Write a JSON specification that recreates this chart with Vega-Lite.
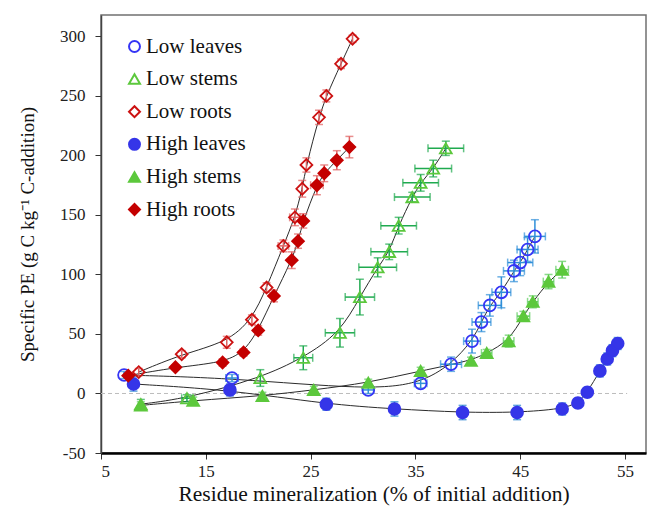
{
  "$schema": "https://vega.github.io/schema/vega-lite/v6.json",
  "width": 545,
  "height": 438,
  "autosize": {"type": "none"},
  "padding": {"left": 101, "top": 15, "right": 2, "bottom": 53},
  "background": "white",
  "datasets": {
    "pts": [
      {"s": "Low leaves", "x": 7.2, "y": 15.5, "ex": 0.3, "ey": 3},
      {"s": "Low leaves", "x": 17.5, "y": 13, "ex": 0.6, "ey": 3},
      {"s": "Low leaves", "x": 30.5, "y": 3, "ex": 0.5, "ey": 3},
      {"s": "Low leaves", "x": 35.5, "y": 8.5, "ex": 0.6, "ey": 4},
      {"s": "Low leaves", "x": 38.4, "y": 24.6, "ex": 1.0, "ey": 6},
      {"s": "Low leaves", "x": 40.4, "y": 44, "ex": 0.8, "ey": 10},
      {"s": "Low leaves", "x": 41.3, "y": 60, "ex": 0.9, "ey": 8},
      {"s": "Low leaves", "x": 42.1, "y": 74, "ex": 1.1, "ey": 9},
      {"s": "Low leaves", "x": 43.2, "y": 85, "ex": 0.9, "ey": 13},
      {"s": "Low leaves", "x": 44.4, "y": 103, "ex": 1.0, "ey": 9},
      {"s": "Low leaves", "x": 45.0, "y": 110, "ex": 1.2, "ey": 11},
      {"s": "Low leaves", "x": 45.7, "y": 121, "ex": 1.0, "ey": 10},
      {"s": "Low leaves", "x": 46.4, "y": 132, "ex": 1.0, "ey": 14},

      {"s": "Low stems", "x": 8.8, "y": -9, "ex": 0.3, "ey": 4},
      {"s": "Low stems", "x": 13.2, "y": -4, "ex": 0.5, "ey": 3},
      {"s": "Low stems", "x": 20.2, "y": 13, "ex": 0.3, "ey": 7},
      {"s": "Low stems", "x": 24.3, "y": 30, "ex": 0.9, "ey": 10},
      {"s": "Low stems", "x": 27.8, "y": 51, "ex": 1.4, "ey": 12},
      {"s": "Low stems", "x": 29.7, "y": 81, "ex": 1.4, "ey": 15},
      {"s": "Low stems", "x": 31.4, "y": 106, "ex": 1.8, "ey": 8},
      {"s": "Low stems", "x": 32.5, "y": 119, "ex": 1.75, "ey": 6.5},
      {"s": "Low stems", "x": 33.4, "y": 141, "ex": 1.7, "ey": 7},
      {"s": "Low stems", "x": 34.7, "y": 165, "ex": 1.7, "ey": 4},
      {"s": "Low stems", "x": 35.5, "y": 177, "ex": 1.7, "ey": 7},
      {"s": "Low stems", "x": 36.7, "y": 189, "ex": 1.75, "ey": 7},
      {"s": "Low stems", "x": 37.9, "y": 206, "ex": 1.7, "ey": 6},

      {"s": "Low roots", "x": 8.6, "y": 18, "ex": 0.4, "ey": 3},
      {"s": "Low roots", "x": 12.7, "y": 33, "ex": 0.3, "ey": 3},
      {"s": "Low roots", "x": 17.0, "y": 43, "ex": 0.4, "ey": 5},
      {"s": "Low roots", "x": 19.4, "y": 62, "ex": 0.3, "ey": 4},
      {"s": "Low roots", "x": 20.8, "y": 89, "ex": 0.3, "ey": 4},
      {"s": "Low roots", "x": 22.4, "y": 124, "ex": 0.5, "ey": 5},
      {"s": "Low roots", "x": 23.5, "y": 148, "ex": 0.5, "ey": 7},
      {"s": "Low roots", "x": 24.2, "y": 172, "ex": 0.4, "ey": 7},
      {"s": "Low roots", "x": 24.6, "y": 192, "ex": 0.4, "ey": 6},
      {"s": "Low roots", "x": 25.8, "y": 232, "ex": 0.4, "ey": 6},
      {"s": "Low roots", "x": 26.5, "y": 250, "ex": 0.4, "ey": 5},
      {"s": "Low roots", "x": 27.9, "y": 277, "ex": 0.3, "ey": 4},
      {"s": "Low roots", "x": 29.0, "y": 298, "ex": 0.3, "ey": 3},

      {"s": "High leaves", "x": 8.1, "y": 8, "ex": 0.2, "ey": 6},
      {"s": "High leaves", "x": 17.3, "y": 3, "ex": 0.2, "ey": 5},
      {"s": "High leaves", "x": 26.5, "y": -9, "ex": 0.2, "ey": 5},
      {"s": "High leaves", "x": 33.0, "y": -13, "ex": 0.2, "ey": 6},
      {"s": "High leaves", "x": 39.5, "y": -16, "ex": 0.3, "ey": 6},
      {"s": "High leaves", "x": 44.7, "y": -16, "ex": 0.3, "ey": 6},
      {"s": "High leaves", "x": 49.0, "y": -13, "ex": 0.4, "ey": 5},
      {"s": "High leaves", "x": 50.5, "y": -8, "ex": 0.3, "ey": 4},
      {"s": "High leaves", "x": 51.4, "y": 1, "ex": 0.3, "ey": 4},
      {"s": "High leaves", "x": 52.6, "y": 19, "ex": 0.3, "ey": 5},
      {"s": "High leaves", "x": 53.3, "y": 29, "ex": 0.3, "ey": 5},
      {"s": "High leaves", "x": 53.8, "y": 36, "ex": 0.3, "ey": 5},
      {"s": "High leaves", "x": 54.3, "y": 42, "ex": 0.3, "ey": 5},

      {"s": "High stems", "x": 8.8, "y": -10, "ex": 0.3, "ey": 3},
      {"s": "High stems", "x": 13.8, "y": -6, "ex": 0.3, "ey": 3},
      {"s": "High stems", "x": 20.4, "y": -2, "ex": 0.3, "ey": 3},
      {"s": "High stems", "x": 25.3, "y": 3, "ex": 0.3, "ey": 3},
      {"s": "High stems", "x": 30.5, "y": 9, "ex": 0.3, "ey": 3},
      {"s": "High stems", "x": 35.5, "y": 19, "ex": 0.4, "ey": 3},
      {"s": "High stems", "x": 40.3, "y": 27.5, "ex": 0.4, "ey": 3},
      {"s": "High stems", "x": 41.8, "y": 34, "ex": 0.5, "ey": 3},
      {"s": "High stems", "x": 43.9, "y": 44, "ex": 0.5, "ey": 5},
      {"s": "High stems", "x": 45.3, "y": 65, "ex": 0.6, "ey": 4},
      {"s": "High stems", "x": 46.2, "y": 77, "ex": 0.5, "ey": 5},
      {"s": "High stems", "x": 47.7, "y": 94, "ex": 0.5, "ey": 6},
      {"s": "High stems", "x": 49.0, "y": 104, "ex": 0.6, "ey": 7},

      {"s": "High roots", "x": 7.6, "y": 15, "ex": 0.3, "ey": 2},
      {"s": "High roots", "x": 12.1, "y": 22, "ex": 0.3, "ey": 2},
      {"s": "High roots", "x": 16.6, "y": 26, "ex": 0.3, "ey": 3},
      {"s": "High roots", "x": 18.6, "y": 34.5, "ex": 0.3, "ey": 3},
      {"s": "High roots", "x": 20.0, "y": 53, "ex": 0.3, "ey": 4},
      {"s": "High roots", "x": 21.5, "y": 82, "ex": 0.3, "ey": 5},
      {"s": "High roots", "x": 23.2, "y": 112, "ex": 0.3, "ey": 7},
      {"s": "High roots", "x": 23.8, "y": 128, "ex": 0.3, "ey": 6},
      {"s": "High roots", "x": 24.3, "y": 145, "ex": 0.3, "ey": 6},
      {"s": "High roots", "x": 25.6, "y": 175, "ex": 0.6, "ey": 8},
      {"s": "High roots", "x": 26.3, "y": 185, "ex": 0.3, "ey": 7},
      {"s": "High roots", "x": 27.5, "y": 196, "ex": 0.3, "ey": 8},
      {"s": "High roots", "x": 28.7, "y": 207, "ex": 0.3, "ey": 9}
    ]
  },
  "data": {"name": "pts"},
  "config": {
    "font": "Liberation Serif",
    "view": {"stroke": "#707070", "strokeWidth": 1.5},
    "axis": {
      "grid": false,
      "labelFont": "Liberation Serif",
      "labelFontSize": 17,
      "labelColor": "#222",
      "titleFont": "Liberation Serif",
      "titleFontSize": 20,
      "titleFontWeight": "normal",
      "titleColor": "#111",
      "tickColor": "#333",
      "tickSize": 6
    },
    "legend": {
      "labelFont": "Liberation Serif",
      "labelFontSize": 21,
      "labelColor": "#111",
      "symbolSize": 120,
      "symbolStrokeWidth": 2,
      "labelOffset": 1,
      "rowPadding": 10.6,
      "padding": 0
    }
  },
  "layer": [
    {
      "data": {"values": [{}]},
      "mark": {"type": "rule", "color": "#bdbdbd", "strokeWidth": 1, "strokeDash": [4, 3]},
      "encoding": {
        "y": {"datum": 0},
        "x": {"datum": 5},
        "x2": {"datum": 55.2}
      }
    },
    {
      "mark": {"type": "line", "interpolate": "basis", "color": "#2b2b2b", "strokeWidth": 1},
      "encoding": {
        "x": {"field": "x", "type": "quantitative", "title": "Residue mineralization (% of initial addition)"},
        "y": {"field": "y", "type": "quantitative", "title": "Specific PE (g C kg⁻¹ C-addition)"},
        "detail": {"field": "s"}
      }
    },
    {
      "mark": {"type": "errorbar", "ticks": {"size": 8}, "thickness": 1.5},
      "encoding": {
        "x": {"field": "x", "type": "quantitative", "title": "Residue mineralization (% of initial addition)"},
        "y": {"field": "y", "type": "quantitative", "title": "Specific PE (g C kg⁻¹ C-addition)"},
        "yError": {"field": "ey"},
        "color": {
          "field": "s", "type": "nominal", "legend": null,
          "scale": {
            "domain": ["High leaves", "High roots", "High stems", "Low leaves", "Low roots", "Low stems"],
            "range": ["#1f7fd0", "#e06060", "#5ccc5c", "#2f8fd8", "#e06060", "#1faa4f"]
          }
        }
      }
    },
    {
      "transform": [{"filter": "datum.ex >= 0.5"}],
      "mark": {"type": "errorbar", "ticks": {"size": 8}, "thickness": 1.5},
      "encoding": {
        "y": {"field": "y", "type": "quantitative", "title": "Specific PE (g C kg⁻¹ C-addition)"},
        "x": {"field": "x", "type": "quantitative", "title": "Residue mineralization (% of initial addition)"},
        "xError": {"field": "ex"},
        "color": {"field": "s", "type": "nominal", "legend": null}
      }
    },
    {
      "mark": {"type": "point", "size": 140, "strokeWidth": 1.8, "opacity": 1},
      "encoding": {
        "x": {
          "field": "x", "type": "quantitative",
          "title": "Residue mineralization (% of initial addition)",
          "scale": {"domain": [5, 57], "nice": false, "zero": false},
          "axis": {
            "values": [5, 15, 25, 35, 45, 55],
            "labelFont": "Liberation Serif", "titleFont": "Liberation Serif",
            "labelFontSize": 17, "titleFontSize": 21.5,
            "domainColor": "#000", "domainWidth": 2.5,
            "labelPadding": 4, "titlePadding": 4
          }
        },
        "y": {
          "field": "y", "type": "quantitative",
          "title": "Specific PE (g C kg⁻¹ C-addition)",
          "scale": {"domain": [-50, 318], "nice": false, "zero": false},
          "axis": {
            "values": [-50, 0, 50, 100, 150, 200, 250, 300],
            "labelExpr": "datum.value < 0 ? '-' + abs(datum.value) : '' + datum.value",
            "labelFont": "Liberation Serif", "titleFont": "Liberation Serif",
            "labelFontSize": 17, "titleFontSize": 19,
            "domainColor": "#444", "domainWidth": 1.5,
            "labelPadding": 10, "titlePadding": 22
          }
        },
        "shape": {
          "field": "s", "type": "nominal", "title": null,
          "scale": {
            "domain": ["Low leaves", "Low stems", "Low roots", "High leaves", "High stems", "High roots"],
            "range": ["circle", "triangle-up", "diamond", "circle", "triangle-up", "diamond"]
          },
          "legend": {"orient": "none", "legendX": 23, "legendY": 21}
        },
        "stroke": {
          "field": "s", "type": "nominal", "title": null,
          "scale": {
            "domain": ["Low leaves", "Low stems", "Low roots", "High leaves", "High stems", "High roots"],
            "range": ["#3535f5", "#5cc83c", "#cc1111", "#3535e8", "#5cc83c", "#c40000"]
          },
          "legend": {"orient": "none", "legendX": 23, "legendY": 21}
        },
        "fill": {
          "field": "s", "type": "nominal", "title": null,
          "scale": {
            "domain": ["Low leaves", "Low stems", "Low roots", "High leaves", "High stems", "High roots"],
            "range": ["transparent", "transparent", "transparent", "#3535e8", "#5cc83c", "#c40000"]
          },
          "legend": {"orient": "none", "legendX": 23, "legendY": 21}
        }
      }
    }
  ]
}
